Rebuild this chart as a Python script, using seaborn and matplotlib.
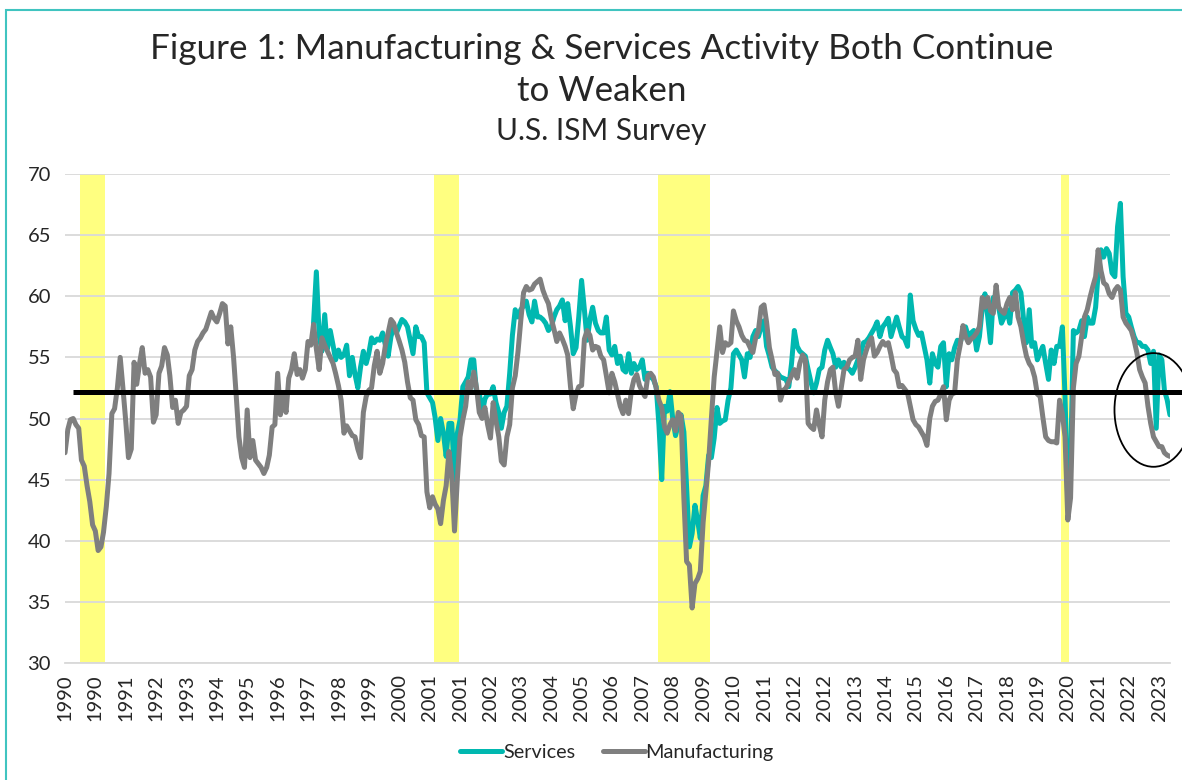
import pandas as pd
import matplotlib
matplotlib.use('Agg')
import matplotlib.pyplot as plt
import matplotlib.dates as mdates
from matplotlib.patches import Ellipse, Rectangle
from matplotlib.lines import Line2D
import seaborn as sns

# ISM Manufacturing PMI, monthly from Jan 1990 (one line per year)
manufacturing = [
    47.2, 49.1, 49.9, 50.0, 49.5, 49.2, 46.6, 46.1, 44.5, 43.2, 41.3, 40.8,
    39.2, 39.5, 40.7, 42.8, 45.5, 50.4, 50.8, 52.5, 55.0, 52.5, 49.8, 46.8,
    47.5, 54.6, 52.8, 54.5, 55.8, 53.7, 54.0, 53.4, 49.7, 50.3, 53.7, 54.3,
    55.8, 55.2, 53.5, 50.9, 51.5, 49.6, 50.5, 50.7, 51.0, 53.5, 54.0, 55.6,
    56.3, 56.6, 57.0, 57.3, 58.0, 58.7, 58.2, 57.9, 58.6, 59.4, 59.2, 56.1,
    57.5, 55.0, 52.0, 48.5, 46.8, 46.0, 50.7, 46.8, 48.2, 46.6, 46.3, 46.0,
    45.5, 46.0, 47.0, 49.3, 49.5, 53.7, 50.3, 51.8, 50.5, 53.3, 54.0, 55.3,
    53.6, 54.0, 53.3, 54.0, 56.3, 56.0, 57.7, 55.7, 54.0, 56.6, 56.0, 55.5,
    55.0, 54.5, 53.7, 52.7, 51.5, 48.8, 49.4, 49.0, 48.6, 48.5, 47.5, 46.8,
    50.5, 51.8, 52.3, 52.5, 54.3, 55.5, 53.7, 54.5, 56.0, 57.0, 58.1, 57.8,
    57.0, 56.3, 55.6, 54.6, 53.0, 51.7, 51.5, 49.9, 49.5, 48.6, 48.5, 44.0,
    42.7, 43.6, 43.0, 42.6, 41.4, 43.3, 44.5, 47.3, 45.3, 40.8, 45.0, 48.5,
    49.9, 51.0, 53.0, 52.5, 53.8, 52.5, 50.5, 50.0, 50.9, 49.5, 48.4, 51.3,
    49.8, 48.5, 46.5, 46.2, 48.5, 49.5, 52.5, 53.5, 55.5, 58.0, 60.3, 60.8,
    60.5, 60.6, 61.0, 61.2, 61.4, 60.5, 59.9, 59.4, 58.2, 57.3, 56.3, 57.0,
    56.5, 55.9, 55.2, 52.6, 50.8, 52.0, 52.6, 52.7, 56.5, 57.2, 56.8, 55.6,
    55.9, 55.8, 55.1, 54.8, 53.5, 52.1, 53.7, 53.0, 52.0, 51.0, 50.4, 51.5,
    50.4, 52.3, 53.2, 53.6, 52.7, 52.2, 51.8, 53.5, 53.7, 53.4, 52.5, 51.5,
    50.9, 49.3, 48.8, 49.5, 49.9, 49.0, 50.5, 50.2, 43.5, 38.3, 38.0, 34.5,
    36.5, 36.9, 37.5, 41.5, 44.0, 46.5, 50.0, 53.4, 55.5, 57.5, 55.4, 56.2,
    56.0, 56.2, 58.8, 58.0, 57.5, 56.8, 56.4, 56.3, 55.8, 55.4, 56.6, 57.2,
    59.1, 59.3, 57.9, 55.8, 54.8, 53.6, 53.7, 51.5, 52.3, 52.5, 53.0, 53.5,
    54.0, 53.3, 54.5, 55.2, 54.8, 49.6, 49.3, 49.1, 50.7, 49.5, 48.5, 51.5,
    53.0, 54.0, 54.2, 52.1, 51.0, 52.5, 54.0, 54.2, 54.8, 55.0, 55.1, 56.4,
    53.2, 54.8, 55.5, 56.2, 56.6, 55.1, 55.4, 55.9, 56.3, 56.0, 56.2, 55.2,
    54.0, 53.7, 52.6, 52.7, 52.4, 52.1, 51.0, 49.9, 49.5, 49.3, 48.9, 48.5,
    47.8, 50.0, 51.0, 51.4, 51.5, 52.0, 52.6, 49.9, 51.5, 52.0, 52.1, 54.8,
    56.0, 57.6, 56.7, 56.2, 56.5, 56.7, 57.0, 57.5, 59.9, 59.1, 59.9, 58.8,
    58.6, 60.9, 59.1, 58.8, 58.6, 59.4, 59.9, 58.9, 60.3, 58.3, 57.5, 56.2,
    55.1, 54.5, 54.2, 53.4, 52.0, 51.8, 50.1, 48.5, 48.2, 48.1, 48.1, 48.0,
    51.5, 50.4, 48.5, 41.7, 43.5, 52.5, 54.5, 55.1, 56.7, 58.3, 58.9, 59.9,
    60.8, 61.6, 63.8, 62.1, 61.1, 60.9, 60.2, 59.9, 60.5, 60.8, 60.5, 58.3,
    57.8, 57.5, 57.2, 56.4, 55.4, 54.0, 53.4, 52.9, 51.0, 49.6, 48.5, 48.1,
    47.7, 47.7, 47.2, 47.0, 46.9,
]

# ISM Services PMI, monthly from Jul 1997
services = [
    57.8, 62.0, 56.8, 55.5, 58.5, 55.7,
    57.2, 56.0, 54.8, 55.6, 55.0, 55.2, 56.0, 53.5, 55.0, 53.6, 52.5, 54.2,
    55.5, 54.5, 55.3, 56.6, 56.2, 56.5, 56.4, 57.0, 56.0, 55.1, 56.7, 57.5,
    57.0, 57.6, 58.1, 57.9, 57.5, 56.4, 55.3, 57.5, 56.7, 56.7, 56.2, 52.1,
    51.7, 51.3, 50.1, 48.2, 50.0, 48.8, 46.9, 49.6, 49.6, 45.0, 48.8, 49.9,
    52.6, 53.0, 53.4, 54.8, 54.8, 52.1, 52.1, 50.4, 51.6, 52.0, 52.0, 52.6,
    51.3, 50.5, 49.2, 50.5, 51.0, 53.7, 56.8, 58.9, 58.3, 58.9, 59.2, 59.6,
    58.5, 57.9, 59.6, 58.3, 58.3, 58.1, 57.8, 57.2, 57.5, 58.3, 58.9, 59.2,
    59.7, 58.0, 59.4, 57.5, 55.3, 55.8, 58.3, 61.3, 58.9, 56.4, 58.1, 59.1,
    57.8, 57.2, 57.0, 57.0, 58.3, 55.6, 55.2, 55.9, 54.5, 55.1, 54.0, 53.8,
    55.3, 53.7, 54.5, 54.0, 54.2, 54.8, 53.2, 53.7, 53.4, 53.2, 52.6, 49.5,
    45.0, 51.0, 50.6, 52.2, 50.0, 48.6, 49.5, 50.3, 48.9, 44.4, 39.5, 40.6,
    42.9, 41.6, 40.2, 43.7, 44.5, 47.0, 46.8, 48.4, 50.9, 49.6, 49.8, 49.9,
    51.5, 52.5, 55.3, 55.6, 55.2, 54.8, 53.4, 55.3, 55.0, 56.7, 57.2, 56.7,
    57.5, 58.0, 55.9, 55.1, 54.2, 53.9, 53.7, 53.4, 53.3, 53.2, 52.6, 54.5,
    57.2, 55.9, 55.5, 55.3, 55.1, 54.0, 53.0, 52.1, 52.9, 54.0, 54.2, 55.6,
    56.4, 55.8, 55.3, 54.2, 54.8, 54.2, 54.6, 54.2, 54.0, 53.7, 54.2, 54.8,
    55.3, 56.2, 56.3, 56.6, 57.0, 57.4, 57.9, 56.7, 57.5, 57.8, 58.2, 56.7,
    57.5, 58.3, 57.5, 56.7, 56.5, 55.9, 60.1, 58.0, 57.3, 56.8, 57.0, 55.9,
    54.8, 52.9, 55.3, 54.5, 54.2, 55.9, 56.2, 52.6, 55.3, 54.8, 55.8, 56.4,
    56.2, 57.0, 57.5, 56.7, 57.0, 57.2, 55.6, 56.7, 59.0, 60.2, 58.3, 56.2,
    59.9, 59.3, 59.1, 57.8, 58.3, 58.9, 57.8, 60.3, 60.5, 60.8, 60.3, 58.1,
    56.2, 58.9, 55.9, 56.2, 54.8, 55.4, 55.9, 54.5, 53.2, 55.6, 54.5, 55.9,
    55.9, 57.5, 51.8, 43.0, 46.0, 57.2, 57.0, 57.2, 58.0, 56.7, 58.3, 57.8,
    57.8, 59.1, 61.9, 63.8, 63.2, 63.9, 63.5, 61.9, 61.6, 65.7, 67.6, 61.6,
    58.6, 58.3, 57.5, 56.7, 56.2, 56.2, 55.9, 55.9, 55.6, 54.5, 55.5, 49.2,
    55.2, 54.8, 52.3, 51.5, 50.3,
]

# NBER recessions (first and last month)
recessions = [("1990-07", "1991-03"), ("2001-03", "2001-11"),
              ("2007-12", "2009-06"), ("2020-02", "2020-04")]
reference_level = 52.2

mfg_dates = pd.date_range("1990-01-01", periods=len(manufacturing), freq="MS")
srv_dates = pd.date_range("1997-07-01", periods=len(services), freq="MS")
df = pd.concat([
    pd.DataFrame({"date": srv_dates, "value": services, "series": "Services"}),
    pd.DataFrame({"date": mfg_dates, "value": manufacturing, "series": "Manufacturing"}),
])

teal = "#00B8B0"
grey = "#7F7F7F"
grid_c = "#D9D9D9"

sns.set_style("white")
plt.rcParams["font.family"] = ["Lato", "DejaVu Sans"]

fig = plt.figure(figsize=(11.82, 7.8), dpi=100)
ax = fig.add_axes([0.055, 0.15, 0.9348, 0.6269])

for start, end in recessions:
    s = pd.Timestamp(start) - pd.Timedelta(days=15)
    e = pd.Timestamp(end) + pd.Timedelta(days=15)
    ax.axvspan(s, e, color="#FFFF80", zorder=0, lw=0)

sns.lineplot(data=df, x="date", y="value", hue="series",
             hue_order=["Services", "Manufacturing"],
             palette={"Services": teal, "Manufacturing": grey},
             linewidth=3.6, legend=False, ax=ax, zorder=3)

# long-run average line
ax.plot([pd.Timestamp("1990-04-01"), pd.Timestamp("2023-10-15")],
        [reference_level, reference_level], color="black", lw=3.6,
        clip_on=False, zorder=5, solid_capstyle="butt")

# circle around latest readings
ell = Ellipse((mdates.date2num(pd.Timestamp("2022-11-01")), 50.7),
              width=860, height=9.3, fill=False, edgecolor="black",
              lw=1.3, clip_on=False, zorder=6)
ax.add_patch(ell)

ax.set_xlim(mfg_dates[0], mfg_dates[-1])
ax.set_ylim(30, 70)
ax.set_yticks(range(30, 71, 5))
xt = mfg_dates[::11]
ax.set_xticks(xt)
ax.set_xticklabels([str(d.year) for d in xt], rotation=90, fontsize=14.5)
ax.tick_params(axis="y", length=0, labelsize=14.5, pad=10)
ax.tick_params(axis="x", length=5, color=grid_c, width=1.3, pad=3)
ax.set_xlabel("")
ax.set_ylabel("")

ax.set_axisbelow(True)
ax.grid(axis="y", color=grid_c, lw=1.3)
ax.grid(axis="x", visible=False)
for side in ["top", "right", "left"]:
    ax.spines[side].set_visible(False)
ax.spines["bottom"].set_color(grid_c)
ax.spines["bottom"].set_linewidth(1.3)

tx = 0.509
fig.text(tx, 1 - 49 / 780, "Figure 1: Manufacturing & Services Activity Both Continue",
         ha="center", va="center", fontsize=25.2)
fig.text(tx, 1 - 91 / 780, "to Weaken", ha="center", va="center", fontsize=25.2)
fig.text(tx, 1 - 131 / 780, "U.S. ISM Survey", ha="center", va="center", fontsize=21.5)

handles = [Line2D([0], [0], color=teal, lw=3.6),
           Line2D([0], [0], color=grey, lw=3.6)]
fig.legend(handles, ["Services", "Manufacturing"], loc="center",
           bbox_to_anchor=(0.522, 0.035), ncol=2, frameon=False,
           fontsize=14.3, handlelength=2.1, handletextpad=0.05, columnspacing=1.4)

# teal frame around the figure (top and left edges visible)
fig.add_artist(Rectangle((6 / 1182, -0.2), 1.5, 1.2 - 10 / 780,
                         transform=fig.transFigure, fill=False,
                         edgecolor="#40C4C0", lw=1.5))

fig.savefig("out.png", dpi=100)
